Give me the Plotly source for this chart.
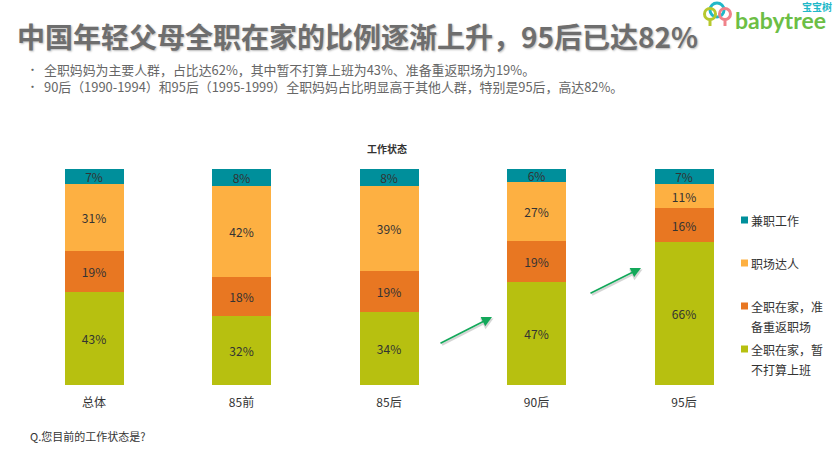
import plotly.graph_objects as go

W, H = 837, 462

categories = ["总体", "85前", "85后", "90后", "95后"]
series_names = ["全职在家，暂<br>不打算上班", "全职在家，准<br>备重返职场", "职场达人", "兼职工作"]
stay_no_plan = [43, 32, 34, 47, 66]
stay_return = [19, 18, 19, 19, 16]
career = [31, 42, 39, 27, 11]
part_time = [7, 8, 8, 6, 7]
colors = ["#B7C010", "#E87722", "#FDB042", "#008F9B"]

FONT = "Noto Sans CJK SC"


def px(x):
    return x / W


def py(y):
    return 1 - y / H


fig = go.Figure()

for name, vals, color in zip(series_names, [stay_no_plan, stay_return, career, part_time], colors):
    fig.add_trace(go.Bar(
        x=categories, y=vals, name=name, marker=dict(color=color, line=dict(width=0)),
        text=[f"{v}%" for v in vals], textposition="inside", insidetextanchor="middle",
        textangle=0, constraintext="none",
        textfont=dict(family=FONT, size=12, color="#333333"),
        showlegend=False,
    ))


def label(x, y, text, size=11, color="#333333", anchor="left", bold=False, family=FONT, shadow="none"):
    fig.add_annotation(
        xref="paper", yref="paper", x=px(x), y=py(y), text=f"<b>{text}</b>" if bold else text,
        showarrow=False, xanchor=anchor, yanchor="middle", align="left", borderpad=0, borderwidth=0,
        font=dict(family=family, size=size, color=color, shadow=shadow),
    )


def arrow(x0, y0, x1, y1):
    # soft shadow first, then the green arrow on top
    for dx, col, w in [(1.5, "rgba(120,120,120,0.3)", 2), (0, "#13A85A", 1.7)]:
        fig.add_annotation(
            xref="paper", yref="paper",
            x=px(x1 + dx), y=py(y1 + dx), ax=x0 - x1, ay=y0 - y1, text="",
            showarrow=True, arrowhead=2, arrowsize=1.2, arrowwidth=w, arrowcolor=col,
        )


# heading and bullets
label(17, 36, "中国年轻父母全职在家的比例逐渐上升，95后已达82%", size=28, color="#6e6e6e", bold=True,
      shadow="1px 1px 2px #bbbbbb")
label(27, 69, "•", size=11, color="#666666")
label(44, 69, "全职妈妈为主要人群，占比达62%，其中暂不打算上班为43%、准备重返职场为19%。", size=12.9, color="#666666")
label(27, 86, "•", size=11, color="#666666")
label(44, 86, "90后（1990-1994）和95后（1995-1999）全职妈妈占比明显高于其他人群，特别是95后，高达82%。", size=12.9, color="#666666")

label(387, 148, "工作状态", size=10, color="#333333", anchor="center", bold=True)
label(30, 436, "Q.您目前的工作状态是?", size=11, color="#333333")

# legend, hand placed because the spacing in the original is uneven
legend_y = [349, 306, 263, 220]
for name, color, y in zip(series_names, colors, legend_y):
    fig.add_shape(type="rect", xref="paper", yref="paper", x0=px(741), x1=px(748),
                  y0=py(y + 3.5), y1=py(y - 3.5), fillcolor=color, line_width=0)
    for i, line in enumerate(name.split("<br>")):
        label(751, y + i * 20.5, line, size=12, color="#333333")

arrow(439, 344, 492, 317)
arrow(589, 294, 641, 268)

# logo
for cx, cy, r, col in [(717, 10, 7, "#20B8C8"), (710, 14, 5.5, "#B7C82E"), (725, 14, 5.5, "#F0828A")]:
    fig.add_shape(type="circle", xref="paper", yref="paper", x0=px(cx - r), x1=px(cx + r),
                  y0=py(cy - r), y1=py(cy + r), line=dict(color=col, width=3), fillcolor="rgba(0,0,0,0)")
for sx, col in [(710, "#B7C82E"), (725, "#F0828A")]:
    fig.add_shape(type="line", xref="paper", yref="paper", x0=px(sx), x1=px(sx), y0=py(20), y1=py(26),
                  line=dict(color=col, width=3))
label(735, 20, "babytree", size=23, color="#6CBE45", bold=True, family="Lato")
label(832, 6, "宝宝树", size=10, color="#20B8C8", anchor="right", bold=True)

fig.update_layout(
    width=W, height=H, barmode="stack", barnorm="percent", bargap=0.6,
    margin=dict(l=0, r=0, t=0, b=0), plot_bgcolor="white", paper_bgcolor="white",
    xaxis=dict(domain=[px(20.25), px(757.75)], showgrid=False, showline=False, ticks="", zeroline=False,
               tickfont=dict(family=FONT, size=12, color="#333333"), ticklabelstandoff=9),
    yaxis=dict(domain=[py(385), py(169)], range=[0, 100], visible=False),
)

# page body has an 8px margin by default, the figure should sit at the window corner
fig.write_html("out.html", config={"displayModeBar": False},
               post_script="document.body.style.margin='0';document.body.style.overflow='hidden';")
